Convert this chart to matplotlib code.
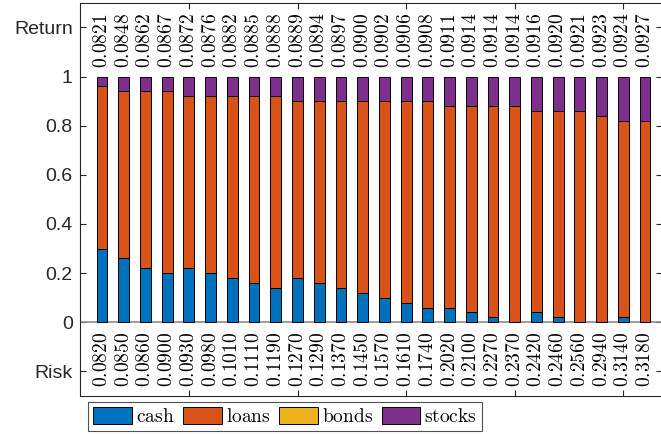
"""
Stacked asset allocation per portfolio, with expected return above each bar
and risk below it.

Output:
    out.png
"""

import matplotlib.pyplot as plt
import numpy as np

plt.rcParams["font.family"] = ["Liberation Sans", "DejaVu Sans"]
plt.rcParams["mathtext.fontset"] = "cm"

# asset weights for each of the 26 portfolios
cash = [0.30, 0.26, 0.22, 0.20, 0.22, 0.20, 0.18, 0.16, 0.14, 0.18, 0.16, 0.14, 0.12,
        0.10, 0.08, 0.06, 0.06, 0.04, 0.02, 0.00, 0.04, 0.02, 0.00, 0.00, 0.02, 0.00]
loans = [0.66, 0.68, 0.72, 0.74, 0.70, 0.72, 0.74, 0.76, 0.78, 0.72, 0.74, 0.76, 0.78,
         0.80, 0.82, 0.84, 0.82, 0.84, 0.86, 0.88, 0.82, 0.84, 0.86, 0.84, 0.80, 0.82]
bonds = [0.0] * 26
stocks = [0.04, 0.06, 0.06, 0.06, 0.08, 0.08, 0.08, 0.08, 0.08, 0.10, 0.10, 0.10, 0.10,
          0.10, 0.10, 0.10, 0.12, 0.12, 0.12, 0.12, 0.14, 0.14, 0.14, 0.16, 0.18, 0.18]

returns = [0.0821, 0.0848, 0.0862, 0.0867, 0.0872, 0.0876, 0.0882, 0.0885, 0.0888,
           0.0889, 0.0894, 0.0897, 0.0900, 0.0902, 0.0906, 0.0908, 0.0911, 0.0914,
           0.0914, 0.0914, 0.0916, 0.0920, 0.0921, 0.0923, 0.0924, 0.0927]
risks = [0.0820, 0.0850, 0.0860, 0.0900, 0.0930, 0.0980, 0.1010, 0.1110, 0.1190,
         0.1270, 0.1290, 0.1370, 0.1450, 0.1570, 0.1610, 0.1740, 0.2020, 0.2100,
         0.2270, 0.2370, 0.2420, 0.2460, 0.2560, 0.2940, 0.3140, 0.3180]

asset_names = ["cash", "loans", "bonds", "stocks"]
colors = ["#0072BD", "#D95319", "#EDB120", "#7E2F8E"]

ytick_values = [-0.2, 0, 0.2, 0.4, 0.6, 0.8, 1.0, 1.2]
ytick_labels = ["Risk", "0", "0.2", "0.4", "0.6", "0.8", "1", "Return"]

fig = plt.figure(figsize=(6.61, 4.34), dpi=100)
ax = fig.add_axes([0.1215, 0.0876, 0.8806, 0.906])

x = np.arange(1, len(cash) + 1)
bottom = np.zeros(len(cash))
handles = []
for name, values, color in zip(asset_names, [cash, loans, bonds, stocks], colors):
    values = np.asarray(values)
    bars = ax.bar(x, values, width=0.5, bottom=bottom, color=color,
                  edgecolor="black", linewidth=0.7, label=f"$\\mathrm{{{name}}}$",
                  zorder=3)
    handles.append(bars)
    bottom = bottom + values

# bar baseline
ax.axhline(0, color="#8c8c8c", linewidth=1.2, zorder=2)

for xi, ret, risk in zip(x, returns, risks):
    ax.text(xi, 1.033, f"${ret:.4f}$", rotation=90, ha="center", va="bottom",
            fontsize=14)
    ax.text(xi, -0.038, f"${risk:.4f}$", rotation=90, ha="center", va="top",
            fontsize=14)

ax.set_xlim(0, 26.8)
ax.set_ylim(-0.3, 1.3)
ax.set_xticks([5, 10, 15, 20, 25])
ax.set_xticklabels([])
ax.set_yticks(ytick_values)
ax.set_yticklabels(ytick_labels)
ax.tick_params(axis="both", direction="in", length=4.5, width=0.8,
               color="#262626", top=True, right=True)
ax.tick_params(axis="y", labelsize=14, pad=5.5, labelcolor="#262626")
for spine in ax.spines.values():
    spine.set_color("#262626")
    spine.set_linewidth(0.8)

leg = fig.legend(handles=handles, loc="upper left", ncol=4,
                 bbox_to_anchor=(88 / 661, 1 - 402 / 434), borderaxespad=0,
                 fontsize=14, frameon=True, fancybox=False, handlelength=2.0,
                 handleheight=0.95, handletextpad=0.2, columnspacing=0.45,
                 borderpad=0.25)
leg.get_frame().set_edgecolor("#262626")
leg.get_frame().set_linewidth(0.8)

fig.savefig("out.png", dpi=100)
